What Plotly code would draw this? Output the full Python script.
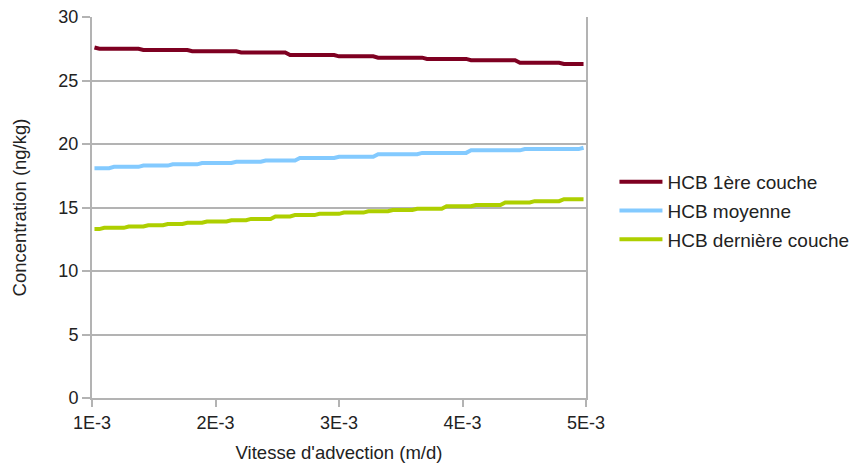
import plotly.graph_objects as go

# X sampling grid (advection velocity, m/d)
x_start = 1.02e-3
x_step = 3.96e-5
n_points = 101
x_values = [round(x_start + i * x_step, 7) for i in range(n_points)]

# Series (value, number of points)
red_levels = [27.6, 27.5, 27.4, 27.3, 27.2, 27.0, 26.9, 26.8, 26.7, 26.6, 26.4, 26.3]
red_counts = [1, 9, 10, 10, 10, 10, 8, 10, 9, 10, 9, 5]

blue_levels = [18.1, 18.2, 18.3, 18.4, 18.5, 18.6, 18.7, 18.9, 19.0, 19.2, 19.3, 19.5, 19.6, 19.7]
blue_counts = [4, 6, 6, 6, 7, 6, 7, 8, 8, 9, 10, 11, 12, 1]

green_levels = [13.3, 13.4, 13.5, 13.6, 13.7, 13.8, 13.9, 14.0, 14.1, 14.3, 14.4,
                14.5, 14.6, 14.7, 14.8, 14.9, 15.1, 15.2, 15.4, 15.5, 15.65]
green_counts = [2, 5, 4, 4, 4, 4, 5, 4, 5, 4, 5, 5, 5, 5, 5, 6, 6, 6, 6, 6, 5]

series_names = ["HCB 1ère couche", "HCB moyenne", "HCB dernière couche"]
series_colors = ["#7e0021", "#83caff", "#aecf00"]

x_tick_vals = [0.001, 0.002, 0.003, 0.004, 0.005]
x_tick_text = ["1E-3", "2E-3", "3E-3", "4E-3", "5E-3"]


def expand(levels, counts):
    out = []
    for v, c in zip(levels, counts):
        out.extend([v] * c)
    return out


series_values = [expand(red_levels, red_counts),
                 expand(blue_levels, blue_counts),
                 expand(green_levels, green_counts)]

fig = go.Figure()
for name, color, yv in zip(series_names, series_colors, series_values):
    fig.add_trace(go.Scatter(
        x=x_values, y=yv, name=name, mode="lines",
        line=dict(color=color, width=4), legendgroup=name,
    ))

font_family = "Liberation Sans, Arial, sans-serif"
fig.update_layout(
    width=854, height=463,
    margin=dict(l=92, r=268, t=17, b=65, autoexpand=False),
    paper_bgcolor="white", plot_bgcolor="white",
    font=dict(family=font_family, size=18, color="#222222"),
    showlegend=True,
    legend=dict(
        xref="container", yref="container",
        x=0.7195, xanchor="left", y=0.5443, yanchor="middle",
        font=dict(size=19, color="#222222"),
        itemwidth=43, tracegroupgap=1,
        bgcolor="rgba(0,0,0,0)",
    ),
    xaxis=dict(
        range=[0.001, 0.005], automargin=False,
        tickvals=x_tick_vals, ticktext=x_tick_text,
        showgrid=False, zeroline=False,
        showline=True, linecolor="#b3b3b3", linewidth=2,
        ticks="outside", ticklen=7, tickcolor="#b3b3b3", tickwidth=2,
        tickfont=dict(size=18),
        title=dict(text="Vitesse d'advection (m/d)", font=dict(size=18.5), standoff=14),
    ),
    yaxis=dict(
        range=[0, 30], dtick=5, automargin=False,
        showgrid=True, gridcolor="#b3b3b3", gridwidth=2,
        zeroline=False,
        showline=True, linecolor="#b3b3b3", linewidth=2, mirror=True,
        ticks="outside", ticklen=8, tickcolor="#b3b3b3", tickwidth=2,
        tickfont=dict(size=18),
        title=dict(text="Concentration (ng/kg)", font=dict(size=18.5), standoff=27),
    ),
)

fig.write_html(
    "out.html",
    config={"displayModeBar": False},
    post_script="document.body.style.margin='0';document.body.style.overflow='hidden';",
)
